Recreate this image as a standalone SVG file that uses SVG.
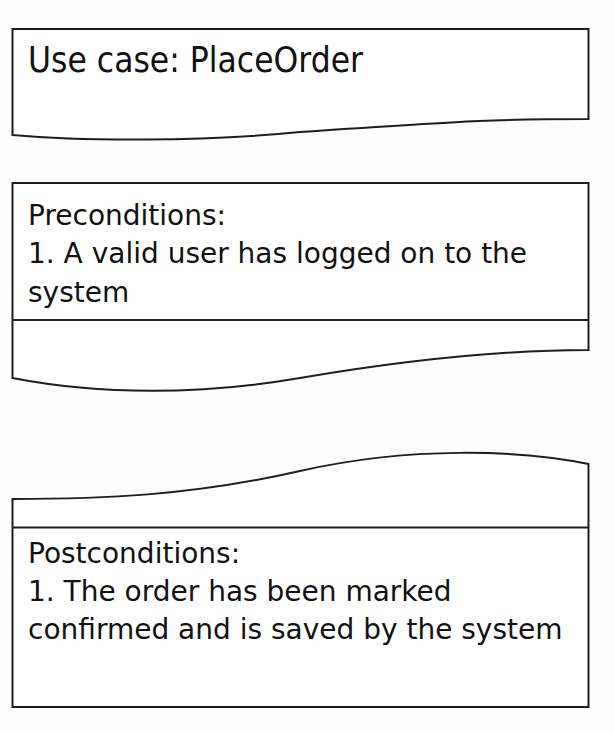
<svg xmlns="http://www.w3.org/2000/svg" width="614" height="733" viewBox="0 0 614 733">
<style>
.shape{fill:#ffffff;stroke:#1e1e1e;stroke-width:2;stroke-linejoin:miter}
.div{stroke:#1e1e1e;stroke-width:2;fill:none}
.t{font-family:"DejaVu Sans","Verdana",sans-serif;font-size:28px;fill:#111111}
.h{font-family:"DejaVu Sans","Verdana",sans-serif;font-size:35px;fill:#111111}
</style>
<rect width="614" height="733" fill="#fdfdfd"/>
<g id="usecase">
<path class="shape" d="M12.5 29 L588.5 29 L588.5 119 C500 119 480 120 300 132 C200 142 80 141 12.5 135 Z"/>
<text class="h" x="28" y="72" textLength="335" lengthAdjust="spacingAndGlyphs">Use case: PlaceOrder</text>
</g>
<g id="preconditions">
<path class="shape" d="M12.5 183 L588.5 183 L588.5 350 C500 350 400 361 300 378 C200 395 100 395 12.5 378 Z"/>
<line class="div" x1="12.5" y1="320" x2="588.5" y2="320"/>
<text class="t" x="28" y="225">Preconditions:</text>
<text class="t" x="28" y="263">1. A valid user has logged on to the</text>
<text class="t" x="28" y="302">system</text>
</g>
<g id="postconditions">
<path class="shape" d="M588.5 464 C520 450 410 446 300 471 C190 496 100 499 12.5 499 L12.5 707 L588.5 707 Z"/>
<line class="div" x1="12.5" y1="527.5" x2="588.5" y2="527.5"/>
<text class="t" x="28" y="563">Postconditions:</text>
<text class="t" x="28" y="601">1. The order has been marked</text>
<text class="t" x="28" y="639">confirmed and is saved by the system</text>
</g>
<g id="connectors"></g>
</svg>
